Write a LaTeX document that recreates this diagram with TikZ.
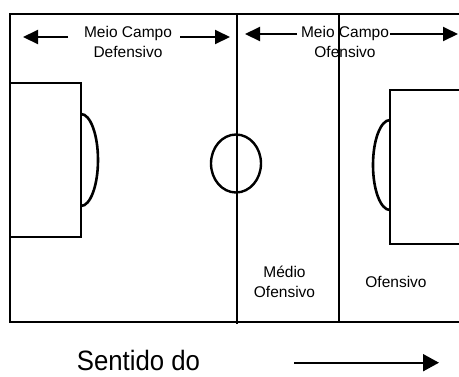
\documentclass[tikz,border=0pt]{standalone}
\usepackage{fontspec}
\setmainfont{Liberation Sans}
\usetikzlibrary{arrows.meta}
\begin{document}
\begin{tikzpicture}[x=1pt,y=-1pt,
  fieldline/.style={line width=2.6pt},
  zoneline/.style={line width=2.4pt},
  lbl/.style={font=\fontsize{15.5}{20}\selectfont, align=center, inner sep=0pt},
  arr/.style={line width=2pt, -{Triangle[length=15pt,width=14pt]}},
  bigarr/.style={line width=2pt, -{Triangle[length=16pt,width=17pt]}},
]
\useasboundingbox (0,0) rectangle (459,376);
% field outline
\draw[fieldline] (459,14) -- (10,14) -- (10,322) -- (459,322);
% left penalty box and arc
\draw[fieldline] (10,83) -- (81,83) -- (81,237) -- (10,237);
\draw[fieldline] (81,114) arc[start angle=90, end angle=-90, x radius=17pt, y radius=46pt];
% half-way line and centre circle
\draw[zoneline] (237,14) -- (237,324);
\draw[zoneline] (236,163.5) ellipse [x radius=25pt, y radius=29pt];
% zone line
\draw[zoneline] (339,14) -- (339,322);
% right penalty box and arc
\draw[fieldline] (459,90) -- (390,90) -- (390,244) -- (459,244);
\draw[fieldline] (390,120) arc[start angle=90, end angle=270, x radius=17pt, y radius=45pt];
% labels
\node[lbl] (def) at (128,41.5) {Meio Campo\\Defensivo};
\node[lbl] (ofe) at (345,42.3) {Meio Campo\\Ofensivo};
\node[lbl] (med) at (284.5,281.4) {Médio\\Ofensivo};
\node[lbl] (ofz) at (396,282.4) {Ofensivo};
\node[inner sep=0pt, anchor=base, font=\fontsize{28}{32}\selectfont] (sent) at (138.5,370.7) {\scalebox{0.92}[1]{Sentido do}};
% arrow end points
\coordinate (a1s) at (68,37);   \coordinate (a1e) at (23,37);
\coordinate (a2s) at (180,37);  \coordinate (a2e) at (230,37);
\coordinate (a3s) at (297,34);  \coordinate (a3e) at (245,34);
\coordinate (a4s) at (390,34);  \coordinate (a4e) at (458,34);
\coordinate (a5s) at (294,362.7); \coordinate (a5e) at (439,362.7);
\draw[arr] (a1s) -- (a1e);
\draw[arr] (a2s) -- (a2e);
\draw[arr] (a3s) -- (a3e);
\draw[arr] (a4s) -- (a4e);
\draw[bigarr] (a5s) -- (a5e);
\end{tikzpicture}
\end{document}
